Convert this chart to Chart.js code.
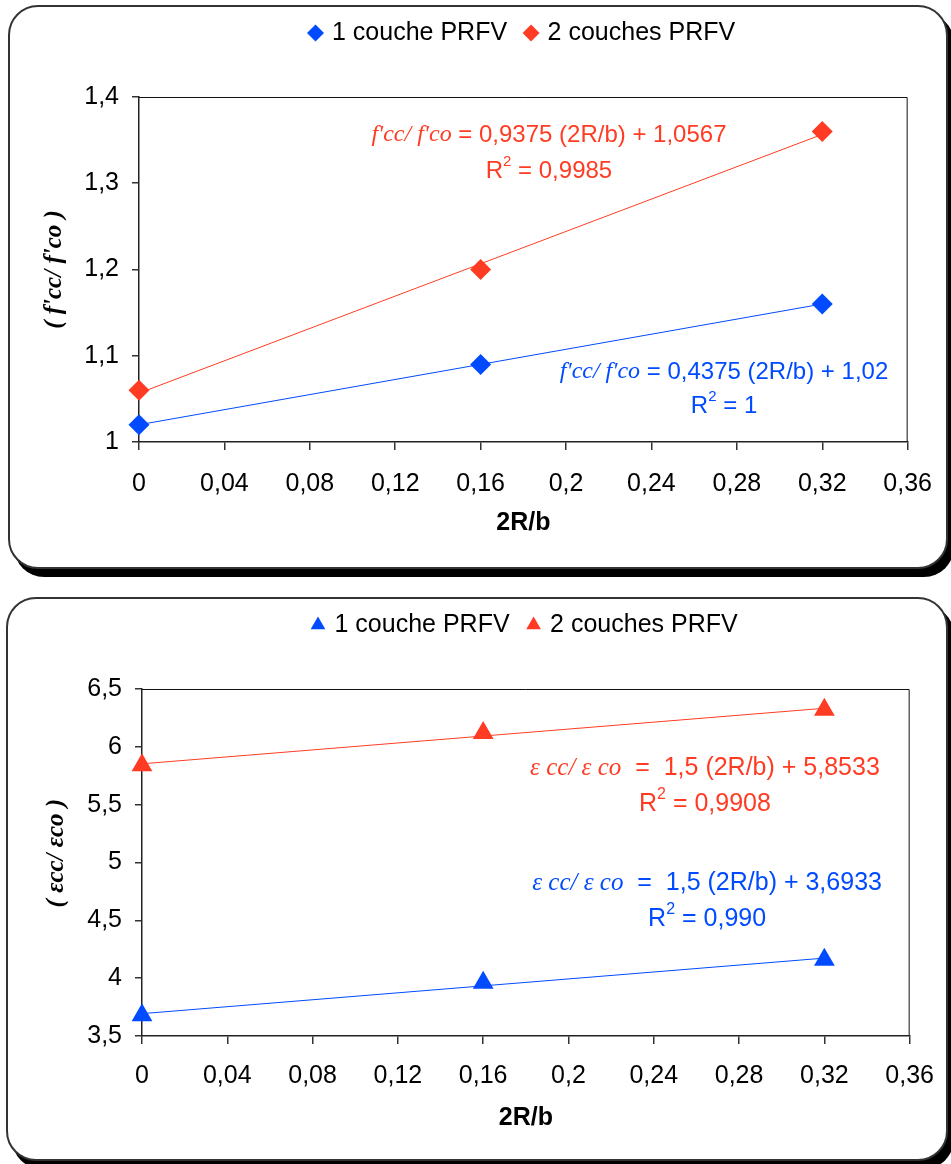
<!DOCTYPE html>
<html>
<head>
<meta charset="utf-8">
<script src="https://cdn.jsdelivr.net/npm/chart.js@4.4.0/dist/chart.umd.min.js"></script>
<style>
  html, body { margin: 0; padding: 0; background: #fff; }
  body { width: 951px; height: 1164px; position: relative; overflow: hidden; }
  .box { position: absolute; background: #fff; border: 2px solid #333; border-radius: 30px;
         box-shadow: 6px 8px 0 #000; box-sizing: border-box; }
  #box1 { left: 8px; top: 5px; width: 940px; height: 564px; }
  #box2 { left: 6px; top: 597px; width: 942px; height: 564px; }
  canvas { position: absolute; left: 0; }
  #c1 { top: 0; }
  #c2 { top: 590px; }
</style>
</head>
<body>
<div class="box" id="box1"></div>
<div class="box" id="box2"></div>
<canvas id="c1" width="951" height="580"></canvas>
<canvas id="c2" width="951" height="574"></canvas>
<script>
// data
const seriesNames = ['1 couche PRFV', '2 couches PRFV'];
const xValues = [0, 0.16, 0.32];
const fcc1Couche = [1.02, 1.09, 1.16];
const fcc2Couches = [1.06, 1.20, 1.36];
const ecc1Couche = [3.68, 3.96, 4.16];
const ecc2Couches = [5.84, 6.12, 6.32];

const xTicks = [0, 0.04, 0.08, 0.12, 0.16, 0.2, 0.24, 0.28, 0.32, 0.36];
const xTickLabels = ['0', '0,04', '0,08', '0,12', '0,16', '0,2', '0,24', '0,28', '0,32', '0,36'];
const fccTicks = [1, 1.1, 1.2, 1.3, 1.4];
const fccTickLabels = ['1', '1,1', '1,2', '1,3', '1,4'];
const eccTicks = [3.5, 4, 4.5, 5, 5.5, 6, 6.5];
const eccTickLabels = ['3,5', '4', '4,5', '5', '5,5', '6', '6,5'];

const BLUE = '#004BFF';
const RED = '#FF3C23';
const SANS = "'Liberation Sans', Arial, sans-serif";
const SERIF = "'Liberation Serif', 'Times New Roman', serif";

Chart.defaults.font.family = SANS;
Chart.defaults.font.size = 25;
Chart.defaults.color = '#000';

// least squares trendline, like the excel one
function trend(xs, ys) {
    let n = xs.length;
    let mx = xs.reduce((a, b) => a + b, 0) / n;
    let my = ys.reduce((a, b) => a + b, 0) / n;
    let sxy = 0, sxx = 0;
    for (let i = 0; i < n; i++) {
        sxy += (xs[i] - mx) * (ys[i] - my);
        sxx += (xs[i] - mx) * (xs[i] - mx);
    }
    let slope = sxy / sxx;
    let icpt = my - slope * mx;
    return [xs[0], xs[n - 1]].map(x => ({x: x, y: icpt + slope * x}));
}

function makeDatasets(ys1, ys2, style, radius) {
    let pts = ys => xValues.map((x, i) => ({x: x, y: ys[i]}));
    let marker = (label, ys, color) => ({
        label: label, data: pts(ys), pointStyle: style, pointRadius: radius,
        pointBorderWidth: 0, backgroundColor: color, borderColor: color,
        showLine: false, clip: false, order: 0
    });
    let line = (ys, color) => ({
        label: 'trend', data: trend(xValues, ys), showLine: true, pointRadius: 0,
        borderColor: color, borderWidth: 1, clip: false, order: 1
    });
    return [marker(seriesNames[0], ys1, BLUE), marker(seriesNames[1], ys2, RED), line(ys1, BLUE), line(ys2, RED)];
}

// equation labels, first line anchored in data units
const sans = s => s + 'px ' + SANS;
const ital = s => 'italic ' + s + 'px ' + SERIF;
const equations = {
    c1: [
        {color: RED, x: 0.192, y: 1.356, gap: 36, lines: [
            [{t: "f'cc/ f'co", f: ital(24)}, {t: ' = 0,9375 (2R/b) + 1,0567', f: sans(24)}],
            [{t: 'R', f: sans(24)}, {t: '2', f: sans(15), dy: -9}, {t: ' = 0,9985', f: sans(24)}]
        ]},
        {color: BLUE, x: 0.274, y: 1.081, gap: 34, lines: [
            [{t: "f'cc/ f'co", f: ital(24)}, {t: ' = 0,4375 (2R/b) + 1,02', f: sans(24)}],
            [{t: 'R', f: sans(24)}, {t: '2', f: sans(15), dy: -9}, {t: ' = 1', f: sans(24)}]
        ]}
    ],
    c2: [
        {color: RED, x: 0.264, y: 5.817, gap: 36, lines: [
            [{t: 'ε cc/ ε co', f: ital(25)}, {t: '  =  1,5 (2R/b) + 5,8533', f: sans(25)}],
            [{t: 'R', f: sans(25)}, {t: '2', f: sans(16), dy: -9}, {t: ' = 0,9908', f: sans(25)}]
        ]},
        {color: BLUE, x: 0.265, y: 4.823, gap: 36, lines: [
            [{t: 'ε cc/ ε co', f: ital(25)}, {t: '  =  1,5 (2R/b) + 3,6933', f: sans(25)}],
            [{t: 'R', f: sans(25)}, {t: '2', f: sans(16), dy: -9}, {t: ' = 0,990', f: sans(25)}]
        ]}
    ]
};

const eqPlugin = {
    id: 'eqLabels',
    afterDatasetsDraw(chart) {
        let ctx = chart.ctx;
        let items = equations[chart.canvas.id] || [];
        items.forEach(item => {
            let cx = chart.scales.x.getPixelForValue(item.x);
            let cy = chart.scales.y.getPixelForValue(item.y);
            item.lines.forEach(line => {
                ctx.save();
                ctx.fillStyle = item.color;
                ctx.textBaseline = 'middle';
                ctx.textAlign = 'left';
                let w = 0;
                line.forEach(s => { ctx.font = s.f; w += ctx.measureText(s.t).width; });
                let x = cx - w / 2;
                line.forEach(s => {
                    ctx.font = s.f;
                    ctx.fillText(s.t, x, cy + (s.dy || 0));
                    x += ctx.measureText(s.t).width;
                });
                ctx.restore();
                cy += item.gap;
            });
        });
    }
};

// top and right side of the plot frame
const framePlugin = {
    id: 'frame',
    beforeDatasetsDraw(chart) {
        let a = chart.chartArea, ctx = chart.ctx;
        ctx.save();
        ctx.strokeStyle = '#111';
        ctx.lineWidth = 1;
        ctx.beginPath();
        ctx.moveTo(a.left, a.top + 0.5);
        ctx.lineTo(a.right - 0.5, a.top + 0.5);
        ctx.lineTo(a.right - 0.5, a.bottom);
        ctx.stroke();
        ctx.restore();
    }
};

function makeChart(id, opt) {
    return new Chart(document.getElementById(id), {
        type: 'scatter',
        data: {datasets: makeDatasets(opt.ys1, opt.ys2, opt.style, opt.radius)},
        plugins: [framePlugin, eqPlugin],
        options: {
            responsive: false,
            animation: false,
            layout: {padding: opt.padding},
            plugins: {
                tooltip: {enabled: false},
                legend: {
                    position: 'top',
                    fullSize: false,
                    labels: {
                        usePointStyle: true, boxWidth: 8, boxHeight: 12, padding: 20,
                        font: {size: 25}, color: '#000',
                        filter: item => item.datasetIndex < 2
                    }
                },
                // empty box, only keeps the gap under the legend
                title: {display: true, text: '', weight: 10, fullSize: false, padding: 0,
                        font: {size: 10, lineHeight: 4.15}}
            },
            scales: {
                x: {
                    type: 'linear', min: 0, max: 0.36,
                    afterBuildTicks: s => { s.ticks = xTicks.map(v => ({value: v})); },
                    afterFit: s => { s.height = opt.xHeight; },
                    ticks: {callback: (v, i) => xTickLabels[i], padding: opt.xPad, maxRotation: 0, autoSkip: false},
                    grid: {drawOnChartArea: false, tickLength: 8, color: '#333', lineWidth: 1.5},
                    border: {color: '#222', width: 1.5},
                    title: {display: true, text: '2R/b', font: {size: 25, weight: 'bold'}, padding: {top: 0, bottom: 0}}
                },
                y: {
                    type: 'linear', min: opt.yTicks[0], max: opt.yTicks[opt.yTicks.length - 1],
                    afterBuildTicks: s => { s.ticks = opt.yTicks.map(v => ({value: v})); },
                    afterFit: s => { s.width = opt.yWidth; },
                    ticks: {callback: (v, i) => opt.yLabels[i], padding: 13, autoSkip: false},
                    grid: {drawOnChartArea: false, tickLength: 7, color: '#333', lineWidth: 1.5},
                    border: {color: '#222', width: 1.5},
                    title: {display: true, text: opt.yTitle,
                            font: {family: SERIF, style: 'italic', weight: 'bold', size: 25},
                            padding: {top: opt.yTitlePad, bottom: 0}}
                }
            }
        }
    });
}

makeChart('c1', {
    ys1: fcc1Couche, ys2: fcc2Couches, style: 'rectRot', radius: 10.5,
    yTicks: fccTicks, yLabels: fccTickLabels, yTitle: "( f'cc/ f'co )",
    padding: {top: 0.5, left: 0, right: 39, bottom: 42},
    xHeight: 96, xPad: 19, yWidth: 139, yTitlePad: 40
});

makeChart('c2', {
    ys1: ecc1Couche, ys2: ecc2Couches, style: 'triangle', radius: 12,
    yTicks: eccTicks, yLabels: eccTickLabels, yTitle: '   ( εcc/ εco )',
    padding: {top: 2.5, left: 0, right: 37, bottom: 31},
    xHeight: 97, xPad: 17, yWidth: 142, yTitlePad: 42
});
</script>
</body>
</html>
